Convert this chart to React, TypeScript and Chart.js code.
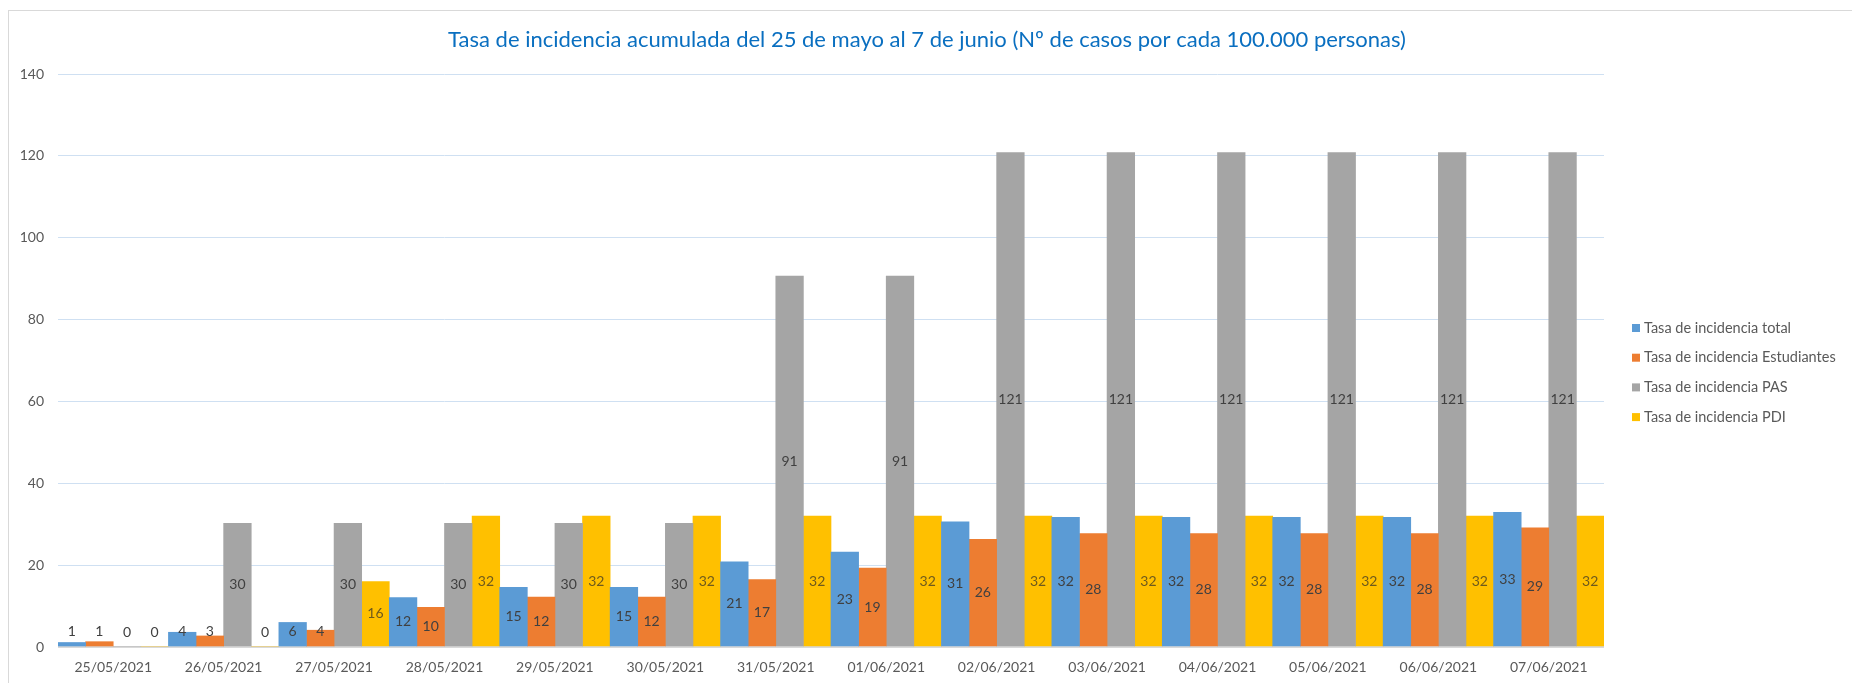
import React, { useEffect, useRef } from "react";
import { Chart, registerables } from "chart.js";

Chart.register(...registerables);

const categories = [
  "25/05/2021", "26/05/2021", "27/05/2021", "28/05/2021", "29/05/2021", "30/05/2021", "31/05/2021",
  "01/06/2021", "02/06/2021", "03/06/2021", "04/06/2021", "05/06/2021", "06/06/2021", "07/06/2021",
];
const seriesNames = [
  "Tasa de incidencia total",
  "Tasa de incidencia Estudiantes",
  "Tasa de incidencia PAS",
  "Tasa de incidencia PDI",
];
const totalValues = [1.1, 3.6, 6.0, 12.1, 14.6, 14.6, 20.8, 23.2, 30.6, 31.7, 31.7, 31.7, 31.7, 32.9];
const estudiantesValues = [1.3, 2.7, 4.1, 9.7, 12.2, 12.2, 16.5, 19.3, 26.3, 27.7, 27.7, 27.7, 27.7, 29.1];
const pasValues = [0, 30.2, 30.2, 30.2, 30.2, 30.2, 90.6, 90.6, 120.8, 120.8, 120.8, 120.8, 120.8, 120.8];
const pdiValues = [0, 0, 16.0, 32.0, 32.0, 32.0, 32.0, 32.0, 32.0, 32.0, 32.0, 32.0, 32.0, 32.0];
const yMin = 0;
const yMax = 140;
const yStep = 20;
const seriesColors = ["#5B9BD5", "#ED7D31", "#A5A5A5", "#FFC000"];
const titleText =
  "Tasa de incidencia acumulada del 25 de mayo al 7 de junio (Nº de casos por cada 100.000 personas)";

const FONT = "Lato, 'Open Sans', sans-serif";

const valueLabels = {
  id: "valueLabels",
  afterDatasetsDraw(chart: any) {
    const ctx = chart.ctx;
    ctx.save();
    ctx.font = `14px ${FONT}`;
    ctx.textAlign = "center";
    ctx.textBaseline = "middle";
    chart.data.datasets.forEach((ds: any, i: number) => {
      const meta = chart.getDatasetMeta(i);
      meta.data.forEach((el: any, j: number) => {
        const v = ds.data[j];
        const { x, y, base } = el.getProps(["x", "y", "base"], true);
        const cy = Math.min((y + base) / 2, base - 15);
        ctx.fillStyle = i === 3 && v > 0 ? "#6f5a1c" : "#404040";
        ctx.fillText(String(Math.round(v)), x, cy);
      });
    });
    ctx.restore();
  },
};

const titleAndLegend = {
  id: "titleAndLegend",
  afterDraw(chart: any) {
    const ctx = chart.ctx;
    ctx.save();
    ctx.font = `22px ${FONT}`;
    ctx.fillStyle = "#0A6FC0";
    ctx.textAlign = "center";
    ctx.textBaseline = "middle";
    ctx.fillText(titleText, 918, 29);

    ctx.font = `14.5px ${FONT}`;
    ctx.textAlign = "left";
    chart.data.datasets.forEach((ds: any, i: number) => {
      const cy = 317 + i * 29.7;
      ctx.fillStyle = ds.backgroundColor;
      ctx.fillRect(1623, cy - 4, 8, 8);
      ctx.fillStyle = "#595959";
      ctx.fillText(ds.label, 1635, cy);
    });
    ctx.restore();
  },
};

export default function App() {
  const ref = useRef<HTMLCanvasElement | null>(null);

  useEffect(() => {
    if (!ref.current) return;
    const seriesValues = [totalValues, estudiantesValues, pasValues, pdiValues];
    const chart = new Chart(ref.current, {
      type: "bar",
      data: {
        labels: categories,
        datasets: seriesNames.map((name, i) => ({
          label: name,
          data: seriesValues[i],
          backgroundColor: seriesColors[i],
          borderWidth: 0,
          categoryPercentage: 1,
          barPercentage: 1,
        })),
      },
      options: {
        animation: false,
        responsive: false,
        devicePixelRatio: 1,
        layout: { padding: { top: 63, right: 248, left: 0, bottom: 0 } },
        plugins: {
          legend: { display: false },
          title: { display: false },
          tooltip: { enabled: false },
        },
        scales: {
          x: {
            grid: { display: false, drawTicks: false },
            border: { display: false },
            ticks: { color: "#595959", font: { family: FONT, size: 14 }, padding: 12, maxRotation: 0 },
            afterFit(scale: any) {
              scale.height = 36;
            },
          },
          y: {
            min: yMin,
            max: yMax,
            ticks: { stepSize: yStep, color: "#595959", font: { family: FONT, size: 14 }, padding: 14 },
            grid: {
              drawTicks: false,
              color: (c: any) => (c.tick && c.tick.value === 0 ? "#D9D9D9" : "#CFE0F2"),
              lineWidth: (c: any) => (c.tick && c.tick.value === 0 ? 2 : 1),
            },
            border: { display: false },
            afterFit(scale: any) {
              scale.width = 49;
            },
          },
        },
      },
      plugins: [valueLabels, titleAndLegend],
    });
    return () => chart.destroy();
  }, []);

  return (
    <div
      style={{
        position: "fixed",
        left: 8,
        top: 10,
        width: 1900,
        height: 720,
        border: "1px solid #D9D9D9",
        background: "#fff",
      }}
    >
      <canvas ref={ref} width={1843} height={672} style={{ display: "block", width: 1843, height: 672 }} />
    </div>
  );
}
